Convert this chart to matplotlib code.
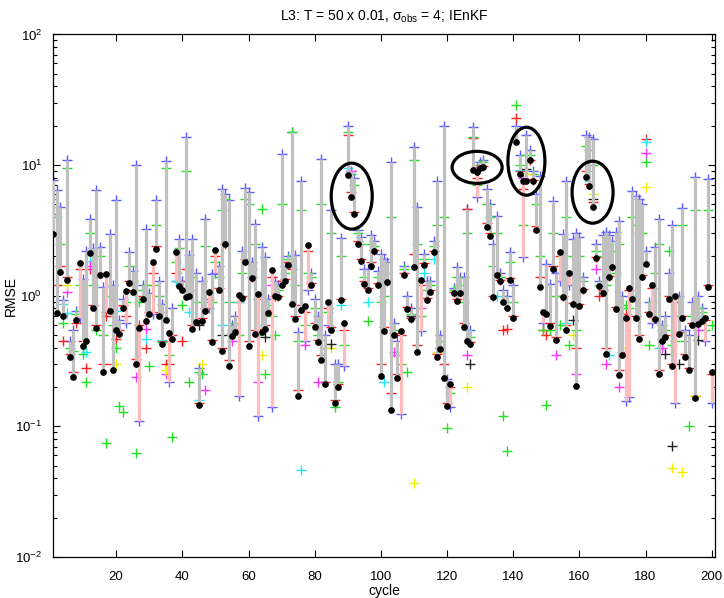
import matplotlib
matplotlib.use("Agg")
import matplotlib.pyplot as plt
import numpy as np
from matplotlib.patches import Ellipse
from matplotlib.ticker import LogLocator, NullFormatter

plt.rcParams["font.family"] = ["Liberation Sans Narrow", "Liberation Sans", "DejaVu Sans"]

cycles = np.arange(1, 201)

# RMSE of the first iterate (forecast), blue "+"
forecast = [
    7.7, 6.4, 4.8, 0.93, 11.0, 0.45, 0.55, 0.77, 0.68, 1.34,
    2.21, 3.84, 2.3, 6.4, 2.37, 1.16, 0.75, 2.96, 1.2, 5.4,
    0.65, 0.95, 0.62, 2.15, 1.55, 10.0, 0.11, 1.2, 3.24, 1.04,
    0.72, 5.4, 1.3, 0.86, 10.8, 0.22, 0.8, 1.3, 2.72, 1.3,
    16.3, 2.06, 2.72, 1.5, 0.28, 1.3, 3.86, 0.8, 1.46, 1.5,
    1.7, 6.5, 6.0, 5.4, 0.6, 0.7, 0.17, 2.2, 6.7, 6.2,
    1.8, 3.54, 0.12, 2.37, 1.99, 0.95, 0.14, 1.3, 1.2, 12.1,
    1.7, 2.0, 17.8, 2.06, 0.53, 7.5, 0.45, 1.1, 1.5, 0.95,
    0.7, 11.1, 0.5, 0.6, 4.5, 0.3, 0.3, 2.76, 0.29, 20.0,
    9.0, 8.0, 3.2, 2.8, 1.6, 1.6, 2.9, 2.6, 1.55, 2.1,
    1.9, 1.8, 10.5, 0.62, 0.45, 0.125, 1.7, 1.0, 0.8, 13.8,
    4.75, 0.54, 2.08, 1.3, 1.3, 2.6, 7.6, 0.5, 20.0, 0.23,
    0.14, 1.15, 1.65, 1.4, 1.4, 4.6, 0.55, 19.5, 5.7, 10.5,
    11.0, 6.5, 5.0, 2.5, 4.1, 1.5, 1.1, 1.0, 2.15, 1.2,
    20.0, 12.0, 1.97, 17.0, 13.0, 9.0, 6.0, 8.3, 0.62, 1.75,
    1.23, 5.3, 1.5, 1.3, 2.95, 7.6, 1.2, 2.7, 3.0, 2.8,
    1.4, 17.0, 16.5, 15.8, 2.5, 1.3, 2.9, 3.06, 2.9, 2.6,
    3.1, 3.76, 1.0, 0.157, 0.167, 6.3, 5.8, 5.5, 5.0, 2.2,
    0.9, 0.62, 2.35, 3.86, 0.6, 0.7, 1.5, 3.5, 0.15, 1.0,
    4.7, 0.55, 0.5, 0.9, 8.1, 1.0, 0.8, 0.45, 7.8, 0.15,
]

# RMSE of the final analysis, black dots
analysis = [
    2.98, 0.74, 1.52, 0.70, 1.33, 0.34, 0.24, 0.655, 1.78, 0.41,
    0.45, 2.12, 0.80, 0.57, 1.43, 0.26, 1.46, 0.76, 0.27, 0.55,
    0.51, 0.80, 1.09, 1.24, 1.06, 0.30, 0.57, 0.94, 0.64, 0.72,
    1.80, 2.28, 0.70, 0.43, 0.655, 0.52, 0.47, 2.15, 1.19, 1.10,
    0.97, 1.0, 0.56, 0.63, 0.145, 0.64, 0.77, 1.07, 0.44, 2.24,
    1.1, 0.375, 2.49, 0.29, 0.49, 0.53, 1.02, 0.96, 1.82, 0.41,
    1.37, 0.51, 1.03, 0.53, 0.56, 0.74, 1.58, 0.99, 0.98, 1.21,
    1.30, 1.73, 0.87, 0.66, 0.17, 0.78, 0.83, 2.44, 1.2, 0.58,
    0.44, 0.32, 0.21, 0.90, 0.55, 0.15, 0.2, 0.92, 0.62, 8.4,
    5.66, 4.2, 2.49, 1.83, 1.23, 1.11, 1.7, 2.18, 1.21, 0.244,
    0.54, 1.27, 0.134, 0.50, 0.233, 0.54, 1.43, 0.79, 0.66, 1.67,
    0.37, 1.32, 1.73, 0.93, 1.06, 2.15, 0.34, 0.39, 0.234, 0.142,
    0.21, 1.04, 0.905, 1.04, 0.58, 0.45, 0.43, 9.2, 8.8, 9.5,
    9.6, 3.33, 2.88, 0.97, 1.45, 1.29, 0.89, 0.80, 1.32, 0.67,
    15.1, 8.5, 7.6, 7.5, 10.9, 7.5, 3.2, 1.16, 0.75, 0.72,
    0.59, 1.59, 0.46, 2.17, 0.98, 0.55, 1.5, 0.86, 0.205, 0.84,
    1.1, 8.1, 6.9, 4.75, 1.94, 1.19, 1.05, 0.36, 1.38, 1.67,
    0.79, 0.247, 0.35, 0.67, 1.14, 0.94, 0.67, 0.47, 1.40, 1.75,
    0.73, 1.21, 0.66, 0.25, 0.45, 0.48, 0.94, 0.29, 1.0, 0.51,
    0.67, 0.34, 0.27, 0.60, 0.165, 0.61, 0.64, 0.68, 1.16, 0.26,
]

# intermediate iterates
iter_red = [
    4.2, 1.2, 1.7, 0.45, 1.4, 0.36, 0.26, 0.62, 1.6, 0.45,
    0.28, 1.6, 0.85, 0.60, 1.5, 0.30, 0.70, 0.80, 0.30, 0.47,
    0.55, 0.85, 0.70, 1.3, 1.1, 0.33, 0.60, 1.0, 0.40, 0.75,
    1.5, 2.4, 0.75, 0.45, 0.30, 0.30, 0.50, 1.5, 1.3, 0.45,
    1.6, 1.1, 0.60, 0.65, 0.15, 0.68, 0.80, 0.95, 0.46, 2.0,
    1.15, 0.40, 2.5, 0.32, 0.52, 0.56, 0.90, 1.0, 1.9, 0.45,
    1.4, 0.55, 0.95, 0.56, 0.60, 0.78, 1.4, 1.0, 1.0, 1.3,
    1.35, 1.8, 1.6, 0.70, 0.19, 0.85, 0.75, 2.2, 1.25, 0.62,
    0.46, 0.35, 0.22, 0.80, 0.58, 0.16, 0.21, 0.95, 0.55, 17.0,
    6.2, 4.4, 2.6, 1.9, 1.3, 1.15, 1.8, 2.25, 1.25, 0.30,
    0.58, 1.3, 0.18, 0.52, 0.25, 0.50, 1.48, 0.82, 0.68, 2.1,
    0.42, 1.2, 1.78, 0.96, 1.1, 2.2, 0.36, 0.40, 0.30, 0.15,
    0.20, 1.06, 0.95, 1.07, 0.62, 4.6, 0.44, 16.0, 8.0, 9.7,
    9.8, 3.6, 3.0, 1.0, 1.5, 1.32, 0.55, 0.56, 1.36, 0.70,
    23.0, 9.0, 6.5, 7.8, 11.0, 7.7, 3.4, 1.4, 0.55, 0.50,
    0.62, 1.7, 0.48, 2.0, 1.0, 0.60, 1.45, 0.88, 0.40, 0.87,
    1.12, 9.0, 7.2, 5.2, 1.98, 1.0, 1.1, 0.40, 1.42, 1.7,
    0.82, 0.27, 0.37, 0.72, 1.1, 1.0, 0.70, 0.50, 1.45, 15.8,
    0.75, 1.15, 0.68, 0.27, 0.47, 0.50, 1.0, 0.30, 0.9, 0.53,
    0.70, 0.36, 0.28, 0.62, 0.17, 0.63, 0.66, 0.65, 1.2, 0.25,
]
iter_green = [
    5.5, 4.0, 2.5, 0.62, 9.5, 0.40, 0.38, 0.72, 1.2, 0.36,
    0.22, 3.0, 1.2, 0.55, 2.0, 0.50, 0.074, 1.0, 0.60, 0.40,
    0.142, 0.128, 0.9, 1.7, 1.3, 0.063, 0.9, 1.1, 1.2, 0.29,
    1.2, 3.5, 1.0, 0.44, 9.5, 0.35, 0.083, 1.8, 2.3, 0.85,
    9.0, 0.22, 1.4, 0.9, 0.26, 0.25, 2.4, 0.9, 0.9, 1.8,
    1.4, 4.5, 5.5, 0.9, 0.55, 0.62, 0.5, 1.5, 5.5, 5.0,
    1.6, 2.5, 0.5, 4.6, 0.25, 0.85, 0.7, 0.50, 1.1, 5.0,
    1.5, 1.9, 18.0, 1.2, 0.45, 4.5, 0.6, 1.5, 1.4, 0.8,
    0.5, 5.0, 0.4, 0.75, 3.0, 0.14, 0.22, 2.0, 0.42, 18.0,
    8.5, 7.0, 3.0, 2.5, 1.4, 0.64, 2.5, 2.4, 1.4, 0.9,
    1.0, 1.5, 4.0, 0.55, 0.35, 0.30, 1.6, 0.26, 0.72, 11.0,
    2.5, 0.7, 1.9, 1.1, 1.2, 2.4, 3.5, 0.45, 4.0, 0.097,
    0.18, 1.1, 1.4, 1.2, 0.9, 3.0, 0.48, 16.5, 7.0, 10.0,
    10.5, 5.0, 4.0, 1.7, 3.0, 1.4, 0.12, 0.065, 1.8, 0.9,
    29.0, 10.0, 3.5, 12.0, 12.0, 8.5, 5.0, 2.0, 0.55, 0.146,
    0.55, 3.0, 1.0, 0.6, 2.0, 4.0, 0.42, 2.0, 0.55, 2.0,
    1.3, 14.0, 13.0, 10.0, 2.2, 1.2, 2.0, 1.2, 2.2, 2.2,
    1.5, 2.5, 0.8, 0.85, 0.8, 4.0, 3.5, 3.0, 3.0, 10.5,
    0.42, 0.9, 1.5, 2.5, 0.55, 0.55, 2.2, 0.42, 0.45, 0.7,
    3.5, 0.45, 0.101, 0.7, 4.5, 0.8, 0.75, 0.55, 4.5, 0.6,
]
cyan_cycle = [4, 5, 11, 12, 20, 29, 34, 38, 42, 45, 52, 57, 64, 76, 88,
              90, 96, 101, 113, 116, 126, 135, 142, 156, 163, 169, 176, 180, 184, 196]
cyan_rmse = [0.87, 0.74, 0.37, 1.83, 0.77, 0.47, 0.46, 1.3, 0.75, 0.16, 0.6, 0.9, 0.6, 0.046, 0.85,
             9.5, 0.9, 0.22, 1.5, 1.9, 0.55, 1.0, 9.2, 0.62, 7.5, 0.35, 1.0, 15.0, 0.4, 0.7]
magenta_cycle = [5, 12, 26, 29, 35, 47, 55, 63, 67, 77, 81, 91, 104, 112, 126,
                 129, 143, 153, 159, 165, 168, 172, 180, 185, 196]
magenta_rmse = [1.06, 1.7, 0.24, 0.56, 0.25, 0.19, 0.45, 0.22, 1.2, 0.42, 0.22, 9.0, 0.37, 0.8, 0.35,
                9.5, 8.0, 0.35, 0.25, 1.6, 0.3, 0.2, 12.3, 0.4, 0.55]
yellow_cycle = [5, 20, 35, 46, 64, 85, 110, 117, 126, 144, 158, 164, 173, 180, 188, 191, 195]
yellow_rmse = [1.2, 0.3, 0.27, 0.3, 0.35, 0.4, 0.037, 0.37, 0.20, 8.5, 0.5, 6.0, 0.4, 6.75, 0.048, 0.045, 0.17]
black_cycle = [45, 52, 65, 85, 109, 127, 144, 158, 164, 186, 188, 190, 196]
black_rmse = [0.6, 0.5, 0.48, 0.43, 0.7, 0.3, 9.3, 0.65, 5.5, 0.36, 0.071, 0.3, 0.46]

# circled cycles: (cycle, rmse, width px, height px)
circles = [(91.2, 5.78, 41, 66), (129.1, 9.6, 50, 32), (144.0, 10.7, 37, 68), (164.0, 6.2, 41, 62)]

fig = plt.figure(figsize=(7.24, 5.98), dpi=100)
ax = fig.add_axes([53.3 / 724, 1 - 557 / 598, 661.7 / 724, 522.6 / 598])
ax.set_yscale("log")
ax.set_xlim(1, 201)
ax.set_ylim(1e-2, 1e2)

plus = dict(linestyle="none", marker="+", markersize=7, markeredgewidth=1.0, zorder=2)
ax.plot(cycles, forecast, color="#5a5aff", **plus)
ax.plot(cycles, iter_red, color="#ff2020", **plus)
ax.plot(cycles, iter_green, color="#22e022", **plus)
ax.plot(cyan_cycle, cyan_rmse, color="#22e8f0", **plus)
ax.plot(magenta_cycle, magenta_rmse, color="#ff33ff", **plus)
ax.plot(yellow_cycle, yellow_rmse, color="#eeee00", **plus)
ax.plot(black_cycle, black_rmse, color="#222222", **plus)

f = np.array(forecast)
a = np.array(analysis)
for c, fv, av in zip(cycles, f, a):
    col = "#c0c0c0" if fv >= av else "#ffbcbc"
    ax.plot([c, c], [fv, av], color=col, linewidth=2.3, solid_capstyle="butt", zorder=3)
ax.plot(cycles, analysis, linestyle="none", marker="o", markersize=3.8, color="black", zorder=4)

ax_w = 661.7
ax_h = 522.6
for c, v, w, h in circles:
    cx, cy = ax.transAxes.inverted().transform(ax.transData.transform((c, v)))
    ax.add_patch(Ellipse((cx, cy), w / ax_w, h / ax_h, transform=ax.transAxes,
                         fill=False, edgecolor="black", linewidth=2.3, zorder=6))

ax.set_xticks(np.arange(20, 201, 20))
ax.yaxis.set_major_locator(LogLocator(base=10, numticks=10))
ax.yaxis.set_minor_locator(LogLocator(base=10, subs=np.arange(2, 10), numticks=10))
ax.yaxis.set_minor_formatter(NullFormatter())
ax.tick_params(which="both", direction="in", top=True, right=True, labelsize=9.5)
ax.tick_params(which="major", length=5, width=0.8)
ax.tick_params(which="minor", length=3, width=0.8)
ax.tick_params(axis="x", which="major", pad=10)
ax.tick_params(axis="y", which="major", pad=8)
for s in ax.spines.values():
    s.set_linewidth(0.9)

ax.set_xlabel("cycle", fontsize=10, labelpad=1)
ax.set_ylabel("RMSE", fontsize=10)
ax.yaxis.set_label_coords(-0.054, 0.5)
ax.set_title("L3: T = 50 x 0.01, $\\mathregular{\\sigma_{obs}}$ = 4; IEnKF", fontsize=10, pad=10)

fig.savefig("out.png", dpi=100)
